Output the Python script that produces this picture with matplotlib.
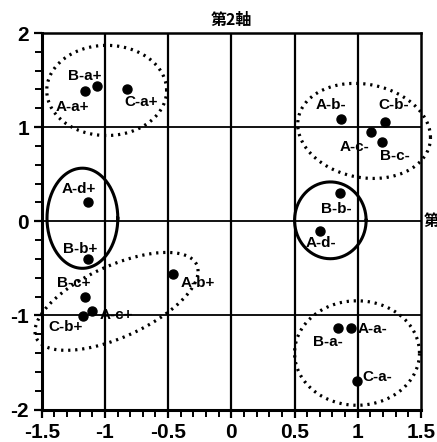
import numpy as np
import matplotlib
matplotlib.use('Agg')
import matplotlib.pyplot as plt
from matplotlib.ticker import MultipleLocator

plt.rcParams['font.family'] = ['Liberation Sans', 'Noto Sans CJK JP', 'DejaVu Sans']

# category points (axis 1, axis 2)
names = ['A-a+', 'B-a+', 'C-a+', 'A-d+', 'B-b+', 'B-c+', 'A-c+', 'C-b+', 'A-b+',
         'A-b-', 'C-b-', 'A-c-', 'B-c-', 'B-b-', 'A-d-', 'B-a-', 'A-a-', 'C-a-']
xs = [-1.158, -1.063, -0.823, -1.132, -1.132, -1.158, -1.10, -1.171, -0.465,
      0.868, 1.216, 1.106, 1.19, 0.856, 0.702, 0.842, 0.947, 0.995]
ys = [1.386, 1.436, 1.41, 0.205, -0.397, -0.805, -0.95, -1.007, -0.556,
      1.085, 1.056, 0.95, 0.837, 0.301, -0.106, -1.131, -1.131, -1.70]

# label offsets in pixels
label_dx = [-13, -12, 14, -9, -8, -11, 24, -18, 25, -10, 9, -17, 13, -3, 1, -10, 21, 20]
label_dy = [-16, 10, -13, 13, 10, 14, -4, -11, -9, 14, 17, -15, -14, -16, -12, -14, -1, 4]

# grouping ellipses: centre x, centre y, half-width, half-height, tilt (deg), style
ell_cx = [-0.986, -1.178, -0.908, 1.05, 0.783, 0.994]
ell_cy = [1.39, 0.032, -0.851, 0.96, 0.01, -1.40]
ell_rx = [0.474, 0.28, 0.645, 0.525, 0.283, 0.494]
ell_ry = [0.479, 0.532, 0.52, 0.505, 0.408, 0.555]
ell_phi = [0, 0, 38, -8, 0, 0]
ell_solid = [False, True, False, False, True, False]


def main():
    fig = plt.figure(figsize=(4.37, 4.42), dpi=100)
    ax = fig.add_axes([0.0954, 0.0735, 0.868, 0.8518])

    ax.set_xlim(-1.5, 1.5)
    ax.set_ylim(-2, 2)

    for v in [-1, -0.5, 0, 0.5, 1]:
        ax.axvline(v, color='k', lw=1.6, zorder=1)
    for v in [-1, 0, 1]:
        ax.axhline(v, color='k', lw=1.3, zorder=1)

    t = np.linspace(0, 2 * np.pi, 300)
    for cx, cy, rx, ry, phi, solid in zip(ell_cx, ell_cy, ell_rx, ell_ry, ell_phi, ell_solid):
        p = np.deg2rad(phi)
        ex = cx + rx * np.cos(t)
        ey = cy + ry * np.sin(t + p)
        if solid:
            ax.plot(ex, ey, color='k', lw=2.2, clip_on=False, zorder=2)
        else:
            ax.plot(ex, ey, color='k', lw=2.3, ls=(0, (0.7, 1.5)), clip_on=False, zorder=2)

    ax.plot(xs, ys, 'o', color='k', ms=6.5, zorder=3)
    for n, x, y, dx, dy in zip(names, xs, ys, label_dx, label_dy):
        ax.annotate(n, (x, y), xytext=(dx, dy), textcoords='offset pixels',
                    ha='center', va='center', fontsize=11, fontweight='bold', zorder=4)

    ax.text(0, 2.05, '第2軸', ha='center', va='bottom', fontsize=11.5, fontweight='bold',
            family=['Noto Sans CJK JP', 'DejaVu Sans'])
    ax.text(1.52, 0, '第1軸', ha='left', va='center', fontsize=11.5, fontweight='bold',
            family=['Noto Sans CJK JP', 'DejaVu Sans'], clip_on=False)

    ax.xaxis.set_minor_locator(MultipleLocator(0.1))
    ax.yaxis.set_minor_locator(MultipleLocator(0.2))
    ax.set_xticks([-1.5, -1, -0.5, 0, 0.5, 1, 1.5])
    ax.set_xticklabels(['-1.5', '-1', '-0.5', '0', '0.5', '1', '1.5'])
    ax.set_yticks([-2, -1, 0, 1, 2])
    ax.set_yticklabels(['-2', '-1', '0', '1', '2'])

    ax.tick_params(which='major', direction='out', length=6, width=1.6, labelsize=15)
    ax.tick_params(axis='x', which='major', pad=4)
    ax.tick_params(axis='y', which='major', pad=3)
    ax.tick_params(which='minor', direction='out', length=5, width=1.4)
    for lab in ax.get_xticklabels() + ax.get_yticklabels():
        lab.set_fontweight('bold')

    for s in ['left', 'bottom']:
        ax.spines[s].set_linewidth(2.2)
    for s in ['right', 'top']:
        ax.spines[s].set_linewidth(1.8)

    fig.savefig('out.png', dpi=100)


if __name__ == '__main__':
    main()
